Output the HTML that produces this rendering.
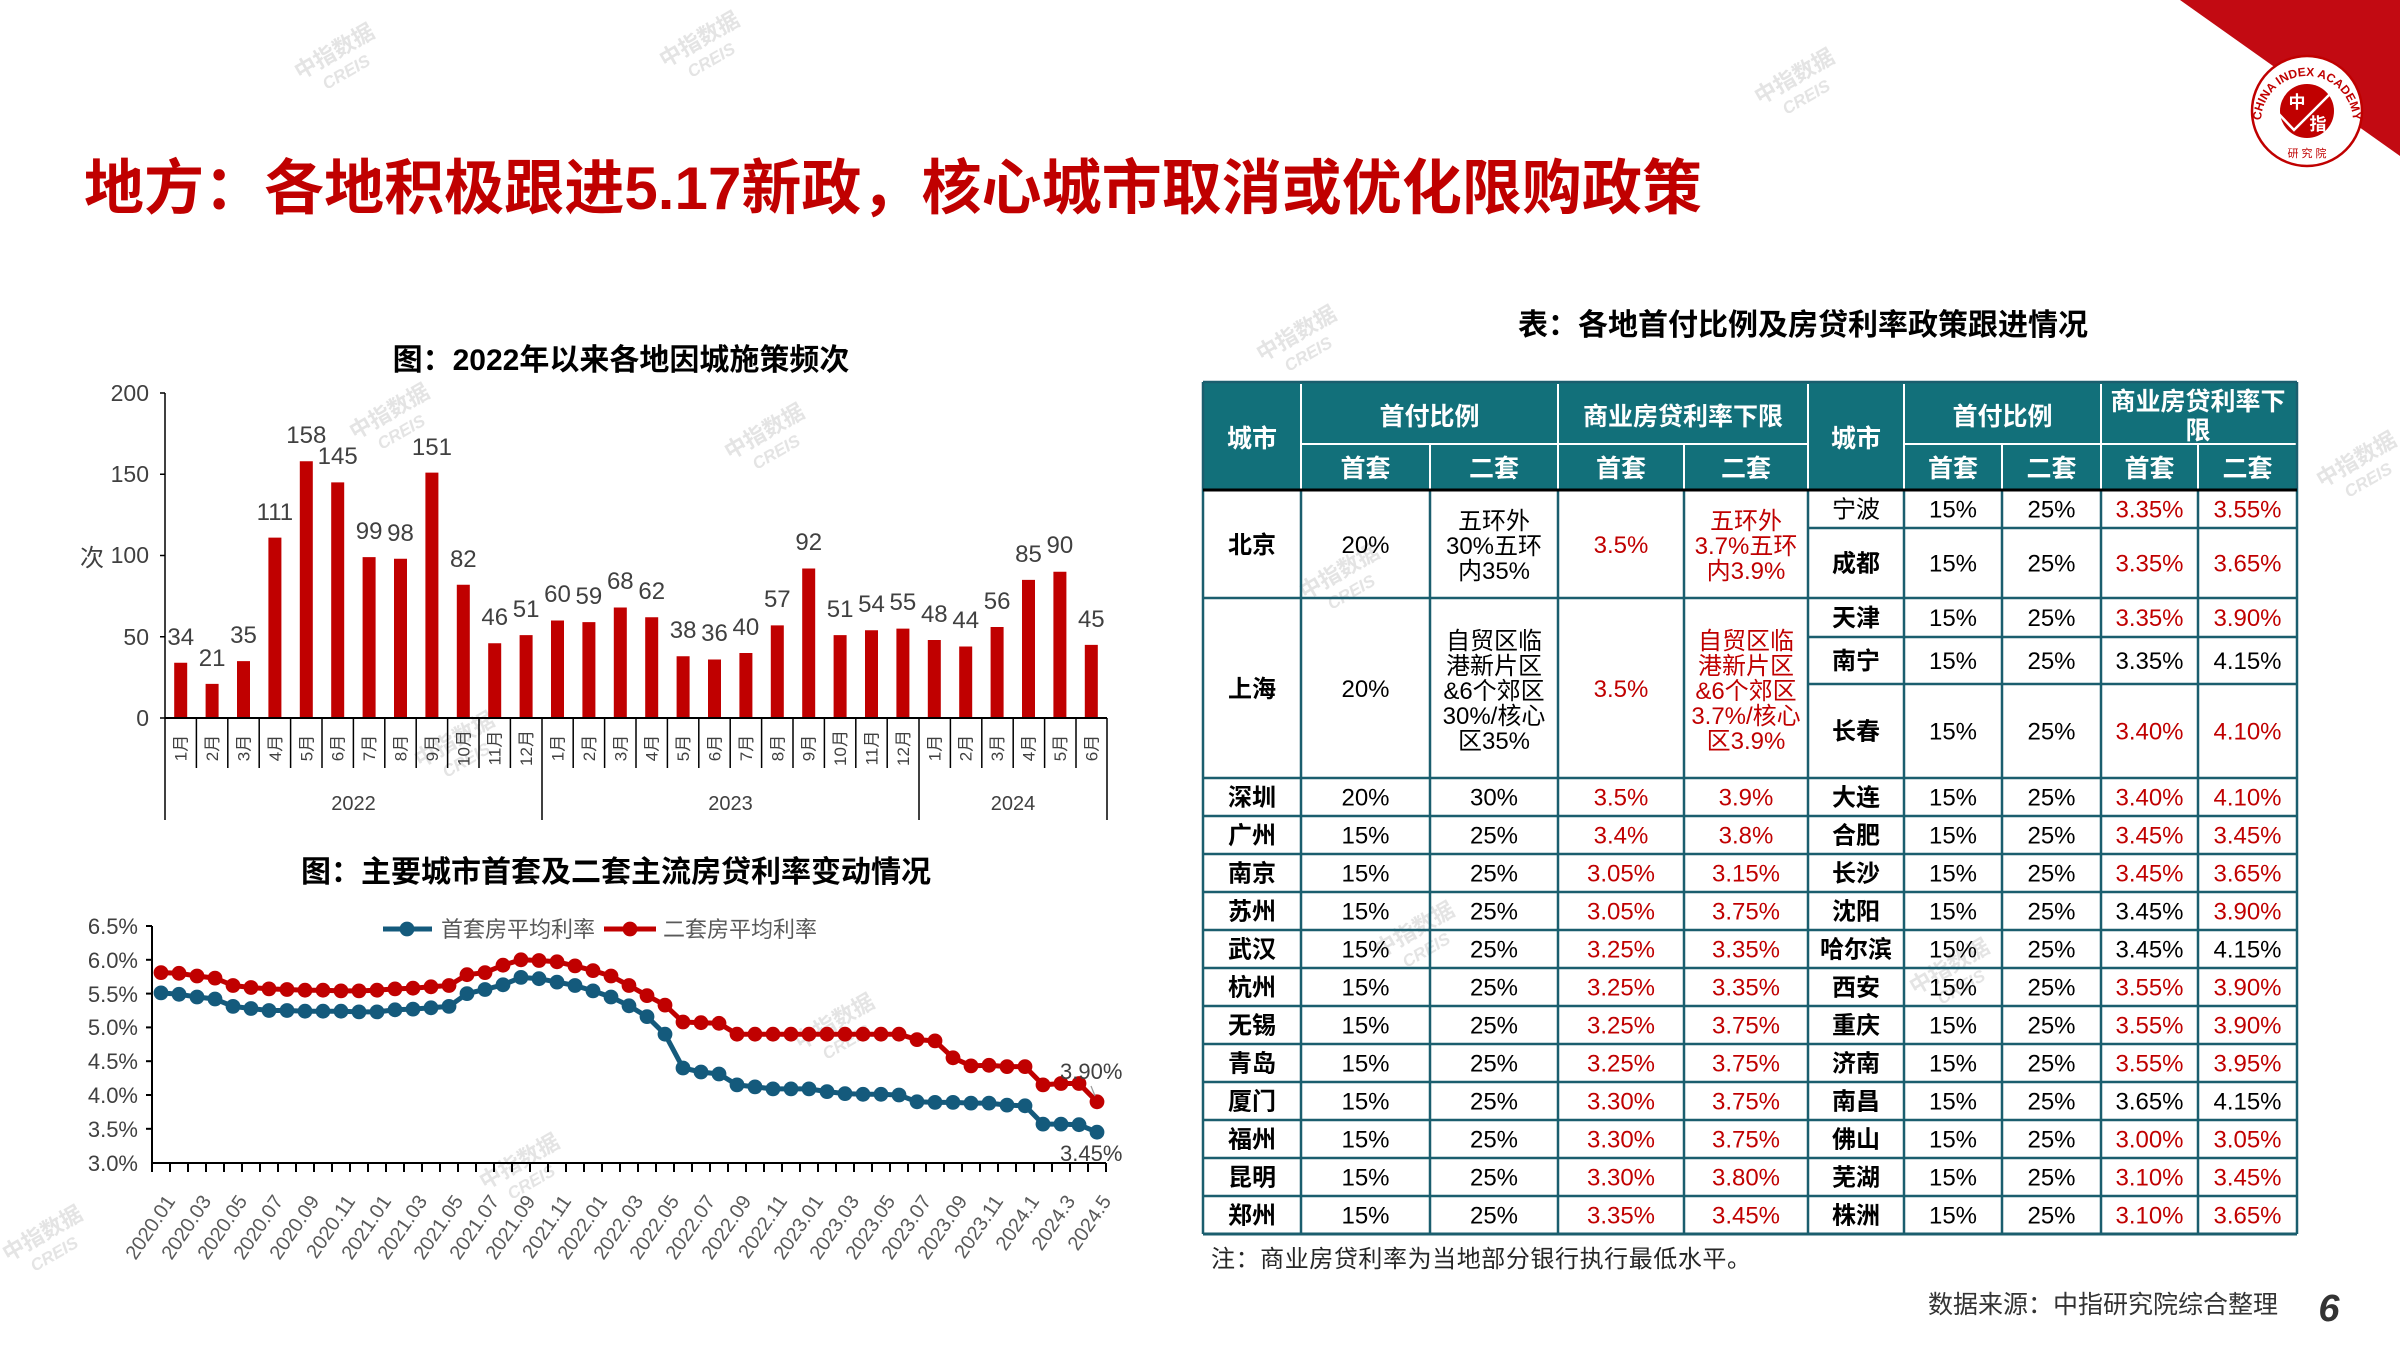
<!DOCTYPE html>
<html><head><meta charset="utf-8"><style>
html,body{margin:0;padding:0;background:#fff;}
svg{display:block;}
text{font-family:"Liberation Sans","Noto Sans CJK SC",sans-serif;}
.b{font-weight:bold}
.g{fill:#404040}
.r{fill:#c00000}
.k{fill:#000}
.c{text-anchor:middle}
.e{text-anchor:end}
.w{fill:#fff}
.wm text{fill:#e4e4e4;font-weight:bold}
</style></head><body>
<svg width="2400" height="1350" viewBox="0 0 2400 1350" xmlns="http://www.w3.org/2000/svg">
<defs>
<marker id="mb" markerUnits="userSpaceOnUse" markerWidth="16" markerHeight="16" refX="8" refY="8"><circle cx="8" cy="8" r="7.4" fill="#145a7c"/></marker>
<marker id="mr" markerUnits="userSpaceOnUse" markerWidth="16" markerHeight="16" refX="8" refY="8"><circle cx="8" cy="8" r="7.4" fill="#c00000"/></marker>
<path id="arcT" d="M 2261 122 A 46 46 0 1 1 2353 122"/>
</defs>
<rect width="2400" height="1350" fill="#fff"/>

<!-- watermarks -->
<g class="wm">
<g transform="translate(300,80) rotate(-30)"><text font-size="22">中指数据</text><text x="18" y="22" font-size="17" font-style="italic">CREIS</text></g>
<g transform="translate(665,68) rotate(-30)"><text font-size="22">中指数据</text><text x="18" y="22" font-size="17" font-style="italic">CREIS</text></g>
<g transform="translate(1760,105) rotate(-30)"><text font-size="22">中指数据</text><text x="18" y="22" font-size="17" font-style="italic">CREIS</text></g>
<g transform="translate(355,440) rotate(-30)"><text font-size="22">中指数据</text><text x="18" y="22" font-size="17" font-style="italic">CREIS</text></g>
<g transform="translate(730,460) rotate(-30)"><text font-size="22">中指数据</text><text x="18" y="22" font-size="17" font-style="italic">CREIS</text></g>
<g transform="translate(1262,362) rotate(-30)"><text font-size="22">中指数据</text><text x="18" y="22" font-size="17" font-style="italic">CREIS</text></g>
<g transform="translate(1305,600) rotate(-30)"><text font-size="22">中指数据</text><text x="18" y="22" font-size="17" font-style="italic">CREIS</text></g>
<g transform="translate(420,768) rotate(-30)"><text font-size="22">中指数据</text><text x="18" y="22" font-size="17" font-style="italic">CREIS</text></g>
<g transform="translate(800,1050) rotate(-30)"><text font-size="22">中指数据</text><text x="18" y="22" font-size="17" font-style="italic">CREIS</text></g>
<g transform="translate(485,1190) rotate(-30)"><text font-size="22">中指数据</text><text x="18" y="22" font-size="17" font-style="italic">CREIS</text></g>
<g transform="translate(1380,958) rotate(-30)"><text font-size="22">中指数据</text><text x="18" y="22" font-size="17" font-style="italic">CREIS</text></g>
<g transform="translate(1915,995) rotate(-30)"><text font-size="22">中指数据</text><text x="18" y="22" font-size="17" font-style="italic">CREIS</text></g>
<g transform="translate(2322,488) rotate(-30)"><text font-size="22">中指数据</text><text x="18" y="22" font-size="17" font-style="italic">CREIS</text></g>
<g transform="translate(8,1262) rotate(-30)"><text font-size="22">中指数据</text><text x="18" y="22" font-size="17" font-style="italic">CREIS</text></g>
</g>

<!-- red corner + logo -->
<polygon points="2180,0 2400,0 2400,156" fill="#c20a12"/>
<circle cx="2307" cy="111" r="55" fill="#fff" stroke="#c00000" stroke-width="2.5"/>
<circle cx="2307" cy="111" r="27" fill="#c00000"/>
<text font-size="12" font-family="Liberation Serif" font-weight="bold" fill="#c00000"><textPath href="#arcT" startOffset="50%" text-anchor="middle">CHINA INDEX ACADEMY</textPath></text>
<text x="2307" y="157" font-size="11" class="c" fill="#c00000">研 究 院</text>
<text x="2297" y="108" font-size="17" class="c w b">中</text>
<text x="2318" y="130" font-size="17" class="c w b">指</text>
<polyline points="2276,111 2294,130 2334,90" fill="none" stroke="#fff" stroke-width="2.5"/>

<!-- main title -->
<text x="84" y="209" font-size="60" class="b" fill="#c00000" textLength="1618" lengthAdjust="spacing">地方：各地积极跟进5.17新政，核心城市取消或优化限购政策</text>

<!-- ================= BAR CHART ================= -->
<text x="621" y="370" font-size="30" class="c b k">图：2022年以来各地因城施策频次</text>
<g stroke="#000" stroke-width="1.5">
<line x1="165" y1="393" x2="165" y2="718"/>
<line x1="160" y1="393" x2="165" y2="393"/>
<line x1="160" y1="474.25" x2="165" y2="474.25"/>
<line x1="160" y1="555.5" x2="165" y2="555.5"/>
<line x1="160" y1="636.75" x2="165" y2="636.75"/>
<line x1="160" y1="718" x2="165" y2="718"/>
</g>
<g font-size="23" class="e g">
<text x="149" y="401">200</text>
<text x="149" y="482">150</text>
<text x="149" y="563">100</text>
<text x="149" y="645">50</text>
<text x="149" y="726">0</text>
</g>
<text x="92" y="566" font-size="24" class="c g">次</text>

<g fill="#c00000">
<rect x="174.2" y="662.75" width="13" height="55.25"/>
<rect x="205.6" y="683.875" width="13" height="34.125"/>
<rect x="237" y="661.125" width="13" height="56.875"/>
<rect x="268.4" y="537.625" width="13" height="180.375"/>
<rect x="299.8" y="461.25" width="13" height="256.75"/>
<rect x="331.2" y="482.375" width="13" height="235.625"/>
<rect x="362.6" y="557.125" width="13" height="160.875"/>
<rect x="394" y="558.75" width="13" height="159.25"/>
<rect x="425.4" y="472.625" width="13" height="245.375"/>
<rect x="456.8" y="584.75" width="13" height="133.25"/>
<rect x="488.2" y="643.25" width="13" height="74.75"/>
<rect x="519.6" y="635.125" width="13" height="82.875"/>
<rect x="551" y="620.5" width="13" height="97.5"/>
<rect x="582.4" y="622.125" width="13" height="95.875"/>
<rect x="613.8" y="607.5" width="13" height="110.5"/>
<rect x="645.2" y="617.25" width="13" height="100.75"/>
<rect x="676.6" y="656.25" width="13" height="61.75"/>
<rect x="708" y="659.5" width="13" height="58.5"/>
<rect x="739.4" y="653" width="13" height="65"/>
<rect x="770.8" y="625.375" width="13" height="92.625"/>
<rect x="802.2" y="568.5" width="13" height="149.5"/>
<rect x="833.6" y="635.125" width="13" height="82.875"/>
<rect x="865" y="630.25" width="13" height="87.75"/>
<rect x="896.4" y="628.625" width="13" height="89.375"/>
<rect x="927.8" y="640" width="13" height="78"/>
<rect x="959.2" y="646.5" width="13" height="71.5"/>
<rect x="990.6" y="627" width="13" height="91"/>
<rect x="1022" y="579.875" width="13" height="138.125"/>
<rect x="1053.4" y="571.75" width="13" height="146.25"/>
<rect x="1084.8" y="644.875" width="13" height="73.125"/>
</g>
<g font-size="24" class="c g">
<text x="180.7" y="645">34</text>
<text x="212.1" y="666">21</text>
<text x="243.5" y="643">35</text>
<text x="274.9" y="520">111</text>
<text x="306.3" y="443">158</text>
<text x="337.7" y="464">145</text>
<text x="369.1" y="539">99</text>
<text x="400.5" y="541">98</text>
<text x="431.9" y="455">151</text>
<text x="463.3" y="567">82</text>
<text x="494.7" y="625">46</text>
<text x="526.1" y="617">51</text>
<text x="557.5" y="602">60</text>
<text x="588.9" y="604">59</text>
<text x="620.3" y="589">68</text>
<text x="651.7" y="599">62</text>
<text x="683.1" y="638">38</text>
<text x="714.5" y="641">36</text>
<text x="745.9" y="635">40</text>
<text x="777.3" y="607">57</text>
<text x="808.7" y="550">92</text>
<text x="840.1" y="617">51</text>
<text x="871.5" y="612">54</text>
<text x="902.9" y="610">55</text>
<text x="934.3" y="622">48</text>
<text x="965.7" y="628">44</text>
<text x="997.1" y="609">56</text>
<text x="1028.5" y="562">85</text>
<text x="1059.9" y="553">90</text>
<text x="1091.3" y="627">45</text>
</g>
<g stroke="#000" stroke-width="1.5">
<line x1="165" y1="718" x2="1107" y2="718" stroke-width="2"/>
<line x1="165" y1="718" x2="165" y2="820"/>
<line x1="542" y1="718" x2="542" y2="820"/>
<line x1="919" y1="718" x2="919" y2="820"/>
<line x1="1107" y1="718" x2="1107" y2="820"/>
<line x1="196.4" y1="718" x2="196.4" y2="768"/>
<line x1="227.8" y1="718" x2="227.8" y2="768"/>
<line x1="259.2" y1="718" x2="259.2" y2="768"/>
<line x1="290.6" y1="718" x2="290.6" y2="768"/>
<line x1="322" y1="718" x2="322" y2="768"/>
<line x1="353.4" y1="718" x2="353.4" y2="768"/>
<line x1="384.8" y1="718" x2="384.8" y2="768"/>
<line x1="416.2" y1="718" x2="416.2" y2="768"/>
<line x1="447.6" y1="718" x2="447.6" y2="768"/>
<line x1="479" y1="718" x2="479" y2="768"/>
<line x1="510.4" y1="718" x2="510.4" y2="768"/>
<line x1="573.2" y1="718" x2="573.2" y2="768"/>
<line x1="604.6" y1="718" x2="604.6" y2="768"/>
<line x1="636" y1="718" x2="636" y2="768"/>
<line x1="667.4" y1="718" x2="667.4" y2="768"/>
<line x1="698.8" y1="718" x2="698.8" y2="768"/>
<line x1="730.2" y1="718" x2="730.2" y2="768"/>
<line x1="761.6" y1="718" x2="761.6" y2="768"/>
<line x1="793" y1="718" x2="793" y2="768"/>
<line x1="824.4" y1="718" x2="824.4" y2="768"/>
<line x1="855.8" y1="718" x2="855.8" y2="768"/>
<line x1="887.2" y1="718" x2="887.2" y2="768"/>
<line x1="950.4" y1="718" x2="950.4" y2="768"/>
<line x1="981.8" y1="718" x2="981.8" y2="768"/>
<line x1="1013.2" y1="718" x2="1013.2" y2="768"/>
<line x1="1044.6" y1="718" x2="1044.6" y2="768"/>
<line x1="1076" y1="718" x2="1076" y2="768"/>
</g>
<g font-size="17" class="c g">
<text transform="translate(186.7,748) rotate(-90)">1月</text>
<text transform="translate(218.1,748) rotate(-90)">2月</text>
<text transform="translate(249.5,748) rotate(-90)">3月</text>
<text transform="translate(280.9,748) rotate(-90)">4月</text>
<text transform="translate(312.3,748) rotate(-90)">5月</text>
<text transform="translate(343.7,748) rotate(-90)">6月</text>
<text transform="translate(375.1,748) rotate(-90)">7月</text>
<text transform="translate(406.5,748) rotate(-90)">8月</text>
<text transform="translate(437.9,748) rotate(-90)">9月</text>
<text transform="translate(469.3,748) rotate(-90)">10月</text>
<text transform="translate(500.7,748) rotate(-90)">11月</text>
<text transform="translate(532.1,748) rotate(-90)">12月</text>
<text transform="translate(563.5,748) rotate(-90)">1月</text>
<text transform="translate(594.9,748) rotate(-90)">2月</text>
<text transform="translate(626.3,748) rotate(-90)">3月</text>
<text transform="translate(657.7,748) rotate(-90)">4月</text>
<text transform="translate(689.1,748) rotate(-90)">5月</text>
<text transform="translate(720.5,748) rotate(-90)">6月</text>
<text transform="translate(751.9,748) rotate(-90)">7月</text>
<text transform="translate(783.3,748) rotate(-90)">8月</text>
<text transform="translate(814.7,748) rotate(-90)">9月</text>
<text transform="translate(846.1,748) rotate(-90)">10月</text>
<text transform="translate(877.5,748) rotate(-90)">11月</text>
<text transform="translate(908.9,748) rotate(-90)">12月</text>
<text transform="translate(940.3,748) rotate(-90)">1月</text>
<text transform="translate(971.7,748) rotate(-90)">2月</text>
<text transform="translate(1003.1,748) rotate(-90)">3月</text>
<text transform="translate(1034.5,748) rotate(-90)">4月</text>
<text transform="translate(1065.9,748) rotate(-90)">5月</text>
<text transform="translate(1097.3,748) rotate(-90)">6月</text>
</g>
<g font-size="20" class="c g">
<text x="353.5" y="810">2022</text>
<text x="730.5" y="810">2023</text>
<text x="1013" y="810">2024</text>
</g>

<!-- ================= LINE CHART ================= -->
<text x="616" y="882" font-size="30" class="c b k">图：主要城市首套及二套主流房贷利率变动情况</text>
<g stroke="#000" stroke-width="2">
<line x1="152" y1="926" x2="152" y2="1163"/>
<line x1="146" y1="926" x2="152" y2="926"/>
<line x1="146" y1="959.8" x2="152" y2="959.8"/>
<line x1="146" y1="993.6" x2="152" y2="993.6"/>
<line x1="146" y1="1027.4" x2="152" y2="1027.4"/>
<line x1="146" y1="1061.2" x2="152" y2="1061.2"/>
<line x1="146" y1="1095" x2="152" y2="1095"/>
<line x1="146" y1="1128.8" x2="152" y2="1128.8"/>
<line x1="152" y1="1163" x2="1106" y2="1163"/>
</g>
<path d="M152 1163v9M170 1163v9M188 1163v9M206 1163v9M224 1163v9M242 1163v9M260 1163v9M278 1163v9M296 1163v9M314 1163v9M332 1163v9M350 1163v9M368 1163v9M386 1163v9M404 1163v9M422 1163v9M440 1163v9M458 1163v9M476 1163v9M494 1163v9M512 1163v9M530 1163v9M548 1163v9M566 1163v9M584 1163v9M602 1163v9M620 1163v9M638 1163v9M656 1163v9M674 1163v9M692 1163v9M710 1163v9M728 1163v9M746 1163v9M764 1163v9M782 1163v9M800 1163v9M818 1163v9M836 1163v9M854 1163v9M872 1163v9M890 1163v9M908 1163v9M926 1163v9M944 1163v9M962 1163v9M980 1163v9M998 1163v9M1016 1163v9M1034 1163v9M1052 1163v9M1070 1163v9M1088 1163v9M1106 1163v9" stroke="#000" stroke-width="2" fill="none"/>
<g font-size="22" class="e g">
<text x="138" y="934">6.5%</text>
<text x="138" y="968">6.0%</text>
<text x="138" y="1002">5.5%</text>
<text x="138" y="1035">5.0%</text>
<text x="138" y="1069">4.5%</text>
<text x="138" y="1103">4.0%</text>
<text x="138" y="1137">3.5%</text>
<text x="138" y="1171">3.0%</text>
</g>
<polyline fill="none" stroke="#c00000" stroke-width="5" stroke-linejoin="round" marker-start="url(#mr)" marker-mid="url(#mr)" marker-end="url(#mr)" points="161,972.6 179,973.3 197,976.0 215,978.1 233,985.5 251,987.5 269,988.9 287,989.5 305,990.2 323,990.2 341,990.9 359,990.9 377,990.2 395,988.9 413,988.2 431,986.8 449,985.5 467,974.7 485,972.6 503,965.2 521,959.8 539,960.5 557,961.8 575,965.9 593,970.6 611,976.0 629,985.5 647,995.6 665,1005.1 683,1022.0 701,1022.7 719,1023.3 737,1034.2 755,1034.2 773,1034.2 791,1034.2 809,1034.2 827,1034.2 845,1034.2 863,1034.2 881,1034.2 899,1034.2 917,1039.6 935,1040.9 953,1057.8 971,1065.9 989,1065.3 1007,1066.6 1025,1066.6 1043,1084.9 1061,1083.5 1079,1083.5 1097,1101.8"/>
<polyline fill="none" stroke="#145a7c" stroke-width="5" stroke-linejoin="round" marker-start="url(#mb)" marker-mid="url(#mb)" marker-end="url(#mb)" points="161,992.9 179,994.3 197,997.0 215,999.0 233,1006.4 251,1008.5 269,1010.5 287,1010.5 305,1011.2 323,1011.2 341,1011.2 359,1011.9 377,1011.9 395,1009.8 413,1009.1 431,1007.8 449,1006.4 467,993.6 485,989.5 503,984.8 521,977.4 539,978.7 557,982.1 575,985.5 593,990.9 611,997.0 629,1005.8 647,1016.6 665,1034.2 683,1068.0 701,1072.0 719,1074.0 737,1084.9 755,1086.9 773,1088.9 791,1088.9 809,1088.9 827,1091.6 845,1093.6 863,1094.3 881,1094.3 899,1095.0 917,1101.8 935,1102.4 953,1102.4 971,1103.1 989,1103.1 1007,1105.1 1025,1105.8 1043,1124.1 1061,1124.1 1079,1124.7 1097,1132.2"/>
<line x1="1091" y1="1086" x2="1095" y2="1096" stroke="#999" stroke-width="1.2"/>
<text x="1060" y="1079" font-size="22" class="g">3.90%</text>
<text x="1060" y="1161" font-size="22" class="g">3.45%</text>
<!-- legend -->
<line x1="383" y1="929" x2="432" y2="929" stroke="#145a7c" stroke-width="5"/>
<circle cx="407" cy="929" r="7.4" fill="#145a7c"/>
<text x="441" y="937" font-size="22" fill="#595959">首套房平均利率</text>
<line x1="604" y1="929" x2="656" y2="929" stroke="#c00000" stroke-width="5"/>
<circle cx="630" cy="929" r="7.4" fill="#c00000"/>
<text x="663" y="937" font-size="22" fill="#595959">二套房平均利率</text>
<!-- x labels -->
<g font-size="20" class="e" fill="#595959">
<text transform="translate(176,1201) rotate(-56)">2020.01</text>
<text transform="translate(212,1201) rotate(-56)">2020.03</text>
<text transform="translate(248,1201) rotate(-56)">2020.05</text>
<text transform="translate(284,1201) rotate(-56)">2020.07</text>
<text transform="translate(320,1201) rotate(-56)">2020.09</text>
<text transform="translate(356,1201) rotate(-56)">2020.11</text>
<text transform="translate(392,1201) rotate(-56)">2021.01</text>
<text transform="translate(428,1201) rotate(-56)">2021.03</text>
<text transform="translate(464,1201) rotate(-56)">2021.05</text>
<text transform="translate(500,1201) rotate(-56)">2021.07</text>
<text transform="translate(536,1201) rotate(-56)">2021.09</text>
<text transform="translate(572,1201) rotate(-56)">2021.11</text>
<text transform="translate(608,1201) rotate(-56)">2022.01</text>
<text transform="translate(644,1201) rotate(-56)">2022.03</text>
<text transform="translate(680,1201) rotate(-56)">2022.05</text>
<text transform="translate(716,1201) rotate(-56)">2022.07</text>
<text transform="translate(752,1201) rotate(-56)">2022.09</text>
<text transform="translate(788,1201) rotate(-56)">2022.11</text>
<text transform="translate(824,1201) rotate(-56)">2023.01</text>
<text transform="translate(860,1201) rotate(-56)">2023.03</text>
<text transform="translate(896,1201) rotate(-56)">2023.05</text>
<text transform="translate(932,1201) rotate(-56)">2023.07</text>
<text transform="translate(968,1201) rotate(-56)">2023.09</text>
<text transform="translate(1004,1201) rotate(-56)">2023.11</text>
<text transform="translate(1040,1201) rotate(-56)">2024.1</text>
<text transform="translate(1076,1201) rotate(-56)">2024.3</text>
<text transform="translate(1112,1201) rotate(-56)">2024.5</text>
</g>

<!-- ================= TABLE ================= -->
<text x="1803" y="335" font-size="30" class="c b k">表：各地首付比例及房贷利率政策跟进情况</text>
<rect x="1203" y="382" width="1094" height="108" fill="#12707a"/>
<g stroke="#fff" stroke-width="2">
<line x1="1301" y1="384" x2="1301" y2="490"/>
<line x1="1558" y1="384" x2="1558" y2="490"/>
<line x1="1808" y1="384" x2="1808" y2="490"/>
<line x1="1904" y1="384" x2="1904" y2="490"/>
<line x1="2101" y1="384" x2="2101" y2="490"/>
<line x1="1430" y1="444" x2="1430" y2="490"/>
<line x1="1684" y1="444" x2="1684" y2="490"/>
<line x1="2002" y1="444" x2="2002" y2="490"/>
<line x1="2198" y1="444" x2="2198" y2="490"/>
<line x1="1301" y1="444" x2="1808" y2="444"/>
<line x1="1904" y1="444" x2="2297" y2="444"/>
</g>
<g font-size="25" class="c b w">
<text x="1252" y="447">城市</text>
<text x="1429.5" y="425">首付比例</text>
<text x="1683" y="425">商业房贷利率下限</text>
<text x="1856" y="447">城市</text>
<text x="2002.5" y="425">首付比例</text>
<text x="2198" y="410">商业房贷利率下</text>
<text x="2198" y="439">限</text>
<text x="1365.5" y="477">首套</text>
<text x="1494" y="477">二套</text>
<text x="1621" y="477">首套</text>
<text x="1746" y="477">二套</text>
<text x="1953" y="477">首套</text>
<text x="2051.5" y="477">二套</text>
<text x="2149.5" y="477">首套</text>
<text x="2247.5" y="477">二套</text>
</g>
<g stroke="#1b5e6e" stroke-width="2.5">
<line x1="1203" y1="382" x2="1203" y2="1234"/>
<line x1="2297" y1="382" x2="2297" y2="1234"/>
<line x1="1203" y1="382" x2="2297" y2="382"/>
<line x1="1301" y1="490" x2="1301" y2="1234"/>
<line x1="1430" y1="490" x2="1430" y2="1234"/>
<line x1="1558" y1="490" x2="1558" y2="1234"/>
<line x1="1684" y1="490" x2="1684" y2="1234"/>
<line x1="1808" y1="490" x2="1808" y2="1234"/>
<line x1="1904" y1="490" x2="1904" y2="1234"/>
<line x1="2002" y1="490" x2="2002" y2="1234"/>
<line x1="2101" y1="490" x2="2101" y2="1234"/>
<line x1="2198" y1="490" x2="2198" y2="1234"/>
<line x1="1808" y1="528" x2="2297" y2="528"/>
<line x1="1203" y1="598" x2="2297" y2="598"/>
<line x1="1808" y1="637" x2="2297" y2="637"/>
<line x1="1808" y1="684" x2="2297" y2="684"/>
<line x1="1203" y1="778" x2="2297" y2="778"/>
<line x1="1203" y1="816" x2="2297" y2="816"/>
<line x1="1203" y1="854" x2="2297" y2="854"/>
<line x1="1203" y1="892" x2="2297" y2="892"/>
<line x1="1203" y1="930" x2="2297" y2="930"/>
<line x1="1203" y1="968" x2="2297" y2="968"/>
<line x1="1203" y1="1006" x2="2297" y2="1006"/>
<line x1="1203" y1="1044" x2="2297" y2="1044"/>
<line x1="1203" y1="1082" x2="2297" y2="1082"/>
<line x1="1203" y1="1120" x2="2297" y2="1120"/>
<line x1="1203" y1="1158" x2="2297" y2="1158"/>
<line x1="1203" y1="1196" x2="2297" y2="1196"/>
<line x1="1203" y1="1234" x2="2297" y2="1234" stroke-width="3"/>
</g>
<line x1="1203" y1="490" x2="2297" y2="490" stroke="#000" stroke-width="3"/>

<g font-size="24" class="c">
<text x="1252" y="553" class="b k">北京</text>
<text x="1365.5" y="553" class="k">20%</text>
<text x="1494" y="529" class="k">五环外</text>
<text x="1494" y="554" class="k">30%五环</text>
<text x="1494" y="579" class="k">内35%</text>
<text x="1621" y="553" class="r">3.5%</text>
<text x="1746" y="529" class="r">五环外</text>
<text x="1746" y="554" class="r">3.7%五环</text>
<text x="1746" y="579" class="r">内3.9%</text>

<text x="1252" y="697" class="b k">上海</text>
<text x="1365.5" y="697" class="k">20%</text>
<text x="1494" y="649" class="k">自贸区临</text>
<text x="1494" y="674" class="k">港新片区</text>
<text x="1494" y="699" class="k">&amp;6个郊区</text>
<text x="1494" y="724" class="k">30%/核心</text>
<text x="1494" y="749" class="k">区35%</text>
<text x="1621" y="697" class="r">3.5%</text>
<text x="1746" y="649" class="r">自贸区临</text>
<text x="1746" y="674" class="r">港新片区</text>
<text x="1746" y="699" class="r">&amp;6个郊区</text>
<text x="1746" y="724" class="r">3.7%/核心</text>
<text x="1746" y="749" class="r">区3.9%</text>

<text x="1856" y="517.5" class="k">宁波</text>
<text x="1953" y="517.5" class="k">15%</text>
<text x="2051.5" y="517.5" class="k">25%</text>
<text x="2149.5" y="517.5" class="r">3.35%</text>
<text x="2247.5" y="517.5" class="r">3.55%</text>

<text x="1856" y="571.5" class="b k">成都</text>
<text x="1953" y="571.5" class="k">15%</text>
<text x="2051.5" y="571.5" class="k">25%</text>
<text x="2149.5" y="571.5" class="r">3.35%</text>
<text x="2247.5" y="571.5" class="r">3.65%</text>

<text x="1856" y="626" class="b k">天津</text>
<text x="1953" y="626" class="k">15%</text>
<text x="2051.5" y="626" class="k">25%</text>
<text x="2149.5" y="626" class="r">3.35%</text>
<text x="2247.5" y="626" class="r">3.90%</text>

<text x="1856" y="669" class="b k">南宁</text>
<text x="1953" y="669" class="k">15%</text>
<text x="2051.5" y="669" class="k">25%</text>
<text x="2149.5" y="669" class="k">3.35%</text>
<text x="2247.5" y="669" class="k">4.15%</text>

<text x="1856" y="739.5" class="b k">长春</text>
<text x="1953" y="739.5" class="k">15%</text>
<text x="2051.5" y="739.5" class="k">25%</text>
<text x="2149.5" y="739.5" class="r">3.40%</text>
<text x="2247.5" y="739.5" class="r">4.10%</text>

<text x="1252" y="805.5" class="b k">深圳</text><text x="1365.5" y="805.5" class="k">20%</text><text x="1494" y="805.5" class="k">30%</text><text x="1621" y="805.5" class="r">3.5%</text><text x="1746" y="805.5" class="r">3.9%</text>
<text x="1856" y="805.5" class="b k">大连</text><text x="1953" y="805.5" class="k">15%</text><text x="2051.5" y="805.5" class="k">25%</text><text x="2149.5" y="805.5" class="r">3.40%</text><text x="2247.5" y="805.5" class="r">4.10%</text>

<text x="1252" y="843.5" class="b k">广州</text><text x="1365.5" y="843.5" class="k">15%</text><text x="1494" y="843.5" class="k">25%</text><text x="1621" y="843.5" class="r">3.4%</text><text x="1746" y="843.5" class="r">3.8%</text>
<text x="1856" y="843.5" class="b k">合肥</text><text x="1953" y="843.5" class="k">15%</text><text x="2051.5" y="843.5" class="k">25%</text><text x="2149.5" y="843.5" class="r">3.45%</text><text x="2247.5" y="843.5" class="r">3.45%</text>

<text x="1252" y="881.5" class="b k">南京</text><text x="1365.5" y="881.5" class="k">15%</text><text x="1494" y="881.5" class="k">25%</text><text x="1621" y="881.5" class="r">3.05%</text><text x="1746" y="881.5" class="r">3.15%</text>
<text x="1856" y="881.5" class="b k">长沙</text><text x="1953" y="881.5" class="k">15%</text><text x="2051.5" y="881.5" class="k">25%</text><text x="2149.5" y="881.5" class="r">3.45%</text><text x="2247.5" y="881.5" class="r">3.65%</text>

<text x="1252" y="919.5" class="b k">苏州</text><text x="1365.5" y="919.5" class="k">15%</text><text x="1494" y="919.5" class="k">25%</text><text x="1621" y="919.5" class="r">3.05%</text><text x="1746" y="919.5" class="r">3.75%</text>
<text x="1856" y="919.5" class="b k">沈阳</text><text x="1953" y="919.5" class="k">15%</text><text x="2051.5" y="919.5" class="k">25%</text><text x="2149.5" y="919.5" class="k">3.45%</text><text x="2247.5" y="919.5" class="r">3.90%</text>

<text x="1252" y="957.5" class="b k">武汉</text><text x="1365.5" y="957.5" class="k">15%</text><text x="1494" y="957.5" class="k">25%</text><text x="1621" y="957.5" class="r">3.25%</text><text x="1746" y="957.5" class="r">3.35%</text>
<text x="1856" y="957.5" class="b k">哈尔滨</text><text x="1953" y="957.5" class="k">15%</text><text x="2051.5" y="957.5" class="k">25%</text><text x="2149.5" y="957.5" class="k">3.45%</text><text x="2247.5" y="957.5" class="k">4.15%</text>

<text x="1252" y="995.5" class="b k">杭州</text><text x="1365.5" y="995.5" class="k">15%</text><text x="1494" y="995.5" class="k">25%</text><text x="1621" y="995.5" class="r">3.25%</text><text x="1746" y="995.5" class="r">3.35%</text>
<text x="1856" y="995.5" class="b k">西安</text><text x="1953" y="995.5" class="k">15%</text><text x="2051.5" y="995.5" class="k">25%</text><text x="2149.5" y="995.5" class="r">3.55%</text><text x="2247.5" y="995.5" class="r">3.90%</text>

<text x="1252" y="1033.5" class="b k">无锡</text><text x="1365.5" y="1033.5" class="k">15%</text><text x="1494" y="1033.5" class="k">25%</text><text x="1621" y="1033.5" class="r">3.25%</text><text x="1746" y="1033.5" class="r">3.75%</text>
<text x="1856" y="1033.5" class="b k">重庆</text><text x="1953" y="1033.5" class="k">15%</text><text x="2051.5" y="1033.5" class="k">25%</text><text x="2149.5" y="1033.5" class="r">3.55%</text><text x="2247.5" y="1033.5" class="r">3.90%</text>

<text x="1252" y="1071.5" class="b k">青岛</text><text x="1365.5" y="1071.5" class="k">15%</text><text x="1494" y="1071.5" class="k">25%</text><text x="1621" y="1071.5" class="r">3.25%</text><text x="1746" y="1071.5" class="r">3.75%</text>
<text x="1856" y="1071.5" class="b k">济南</text><text x="1953" y="1071.5" class="k">15%</text><text x="2051.5" y="1071.5" class="k">25%</text><text x="2149.5" y="1071.5" class="r">3.55%</text><text x="2247.5" y="1071.5" class="r">3.95%</text>

<text x="1252" y="1109.5" class="b k">厦门</text><text x="1365.5" y="1109.5" class="k">15%</text><text x="1494" y="1109.5" class="k">25%</text><text x="1621" y="1109.5" class="r">3.30%</text><text x="1746" y="1109.5" class="r">3.75%</text>
<text x="1856" y="1109.5" class="b k">南昌</text><text x="1953" y="1109.5" class="k">15%</text><text x="2051.5" y="1109.5" class="k">25%</text><text x="2149.5" y="1109.5" class="k">3.65%</text><text x="2247.5" y="1109.5" class="k">4.15%</text>

<text x="1252" y="1147.5" class="b k">福州</text><text x="1365.5" y="1147.5" class="k">15%</text><text x="1494" y="1147.5" class="k">25%</text><text x="1621" y="1147.5" class="r">3.30%</text><text x="1746" y="1147.5" class="r">3.75%</text>
<text x="1856" y="1147.5" class="b k">佛山</text><text x="1953" y="1147.5" class="k">15%</text><text x="2051.5" y="1147.5" class="k">25%</text><text x="2149.5" y="1147.5" class="r">3.00%</text><text x="2247.5" y="1147.5" class="r">3.05%</text>

<text x="1252" y="1185.5" class="b k">昆明</text><text x="1365.5" y="1185.5" class="k">15%</text><text x="1494" y="1185.5" class="k">25%</text><text x="1621" y="1185.5" class="r">3.30%</text><text x="1746" y="1185.5" class="r">3.80%</text>
<text x="1856" y="1185.5" class="b k">芜湖</text><text x="1953" y="1185.5" class="k">15%</text><text x="2051.5" y="1185.5" class="k">25%</text><text x="2149.5" y="1185.5" class="r">3.10%</text><text x="2247.5" y="1185.5" class="r">3.45%</text>

<text x="1252" y="1223.5" class="b k">郑州</text><text x="1365.5" y="1223.5" class="k">15%</text><text x="1494" y="1223.5" class="k">25%</text><text x="1621" y="1223.5" class="r">3.35%</text><text x="1746" y="1223.5" class="r">3.45%</text>
<text x="1856" y="1223.5" class="b k">株洲</text><text x="1953" y="1223.5" class="k">15%</text><text x="2051.5" y="1223.5" class="k">25%</text><text x="2149.5" y="1223.5" class="r">3.10%</text><text x="2247.5" y="1223.5" class="r">3.65%</text>
</g>

<text x="1211" y="1267" font-size="24" fill="#262626" textLength="540" lengthAdjust="spacing">注：商业房贷利率为当地部分银行执行最低水平。</text>
<text x="2278" y="1313" font-size="25" class="e" fill="#333">数据来源：中指研究院综合整理</text>
<text x="2329" y="1321" font-size="38" class="c b" font-style="italic" fill="#333">6</text>
</svg>
</body></html>
